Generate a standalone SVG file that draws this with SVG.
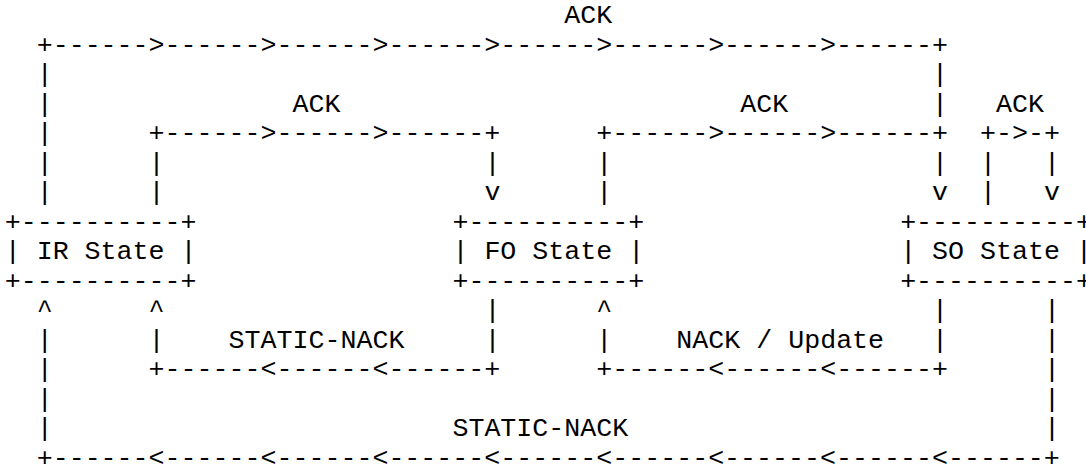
<svg xmlns="http://www.w3.org/2000/svg" width="1086" height="465" viewBox="0 0 1086 465" xml:space="preserve">
<style>
.t{font-family:"Liberation Mono","Courier New",monospace;font-size:26.65px;fill:#000;white-space:pre}
</style>
<rect width="1086" height="465" fill="#fff"/>
<g id="connectors" class="t">
<text x="36.68" y="52.8">+------&gt;------&gt;------&gt;------&gt;------&gt;------&gt;------&gt;------+</text>
<text x="36.68" y="82.3">|</text><text x="932.12" y="82.3">|</text>
<text x="36.68" y="111.8">|</text><text x="932.12" y="111.8">|</text>
<text x="36.68" y="141.3">|</text><text x="148.61" y="141.3">+------&gt;------&gt;------+</text><text x="596.33" y="141.3">+------&gt;------&gt;------+</text><text x="980.09" y="141.3">+-&gt;-+</text>
<text x="36.68" y="170.8">|</text><text x="148.61" y="170.8">|</text><text x="484.4" y="170.8">|</text><text x="596.33" y="170.8">|</text><text x="932.12" y="170.8">|</text><text x="980.09" y="170.8">|</text><text x="1044.05" y="170.8">|</text>
<text x="36.68" y="200.3">|</text><text x="148.61" y="200.3">|</text><text x="484.4" y="200.3">v</text><text x="596.33" y="200.3">|</text><text x="932.12" y="200.3">v</text><text x="980.09" y="200.3">|</text><text x="1044.05" y="200.3">v</text>
<text x="36.68" y="318.3">^</text><text x="148.61" y="318.3">^</text><text x="484.4" y="318.3">|</text><text x="596.33" y="318.3">^</text><text x="932.12" y="318.3">|</text><text x="1044.05" y="318.3">|</text>
<text x="36.68" y="347.8">|</text><text x="148.61" y="347.8">|</text><text x="484.4" y="347.8">|</text><text x="596.33" y="347.8">|</text><text x="932.12" y="347.8">|</text><text x="1044.05" y="347.8">|</text>
<text x="36.68" y="377.3">|</text><text x="148.61" y="377.3">+------&lt;------&lt;------+</text><text x="596.33" y="377.3">+------&lt;------&lt;------+</text><text x="1044.05" y="377.3">|</text>
<text x="36.68" y="406.8">|</text><text x="1044.05" y="406.8">|</text>
<text x="36.68" y="436.3">|</text><text x="1044.05" y="436.3">|</text>
<text x="36.68" y="465.8">+------&lt;------&lt;------&lt;------&lt;------&lt;------&lt;------&lt;------&lt;------+</text>
</g>
<g id="labels" class="t">
<text x="564.35" y="23.3">ACK</text>
<text x="292.52" y="111.8">ACK</text>
<text x="740.24" y="111.8">ACK</text>
<text x="996.08" y="111.8">ACK</text>
<text x="228.56" y="347.8">STATIC-NACK</text>
<text x="676.28" y="347.8">NACK / Update</text>
<text x="452.42" y="436.3">STATIC-NACK</text>
</g>
<g id="ir-state" class="t">
<text x="4.7" y="229.8">+----------+</text>
<text x="4.7" y="259.3">| IR State |</text>
<text x="4.7" y="288.8">+----------+</text>
</g>
<g id="fo-state" class="t">
<text x="452.42" y="229.8">+----------+</text>
<text x="452.42" y="259.3">| FO State |</text>
<text x="452.42" y="288.8">+----------+</text>
</g>
<g id="so-state" class="t">
<text x="900.14" y="229.8">+----------+</text>
<text x="900.14" y="259.3">| SO State |</text>
<text x="900.14" y="288.8">+----------+</text>
</g>
</svg>
